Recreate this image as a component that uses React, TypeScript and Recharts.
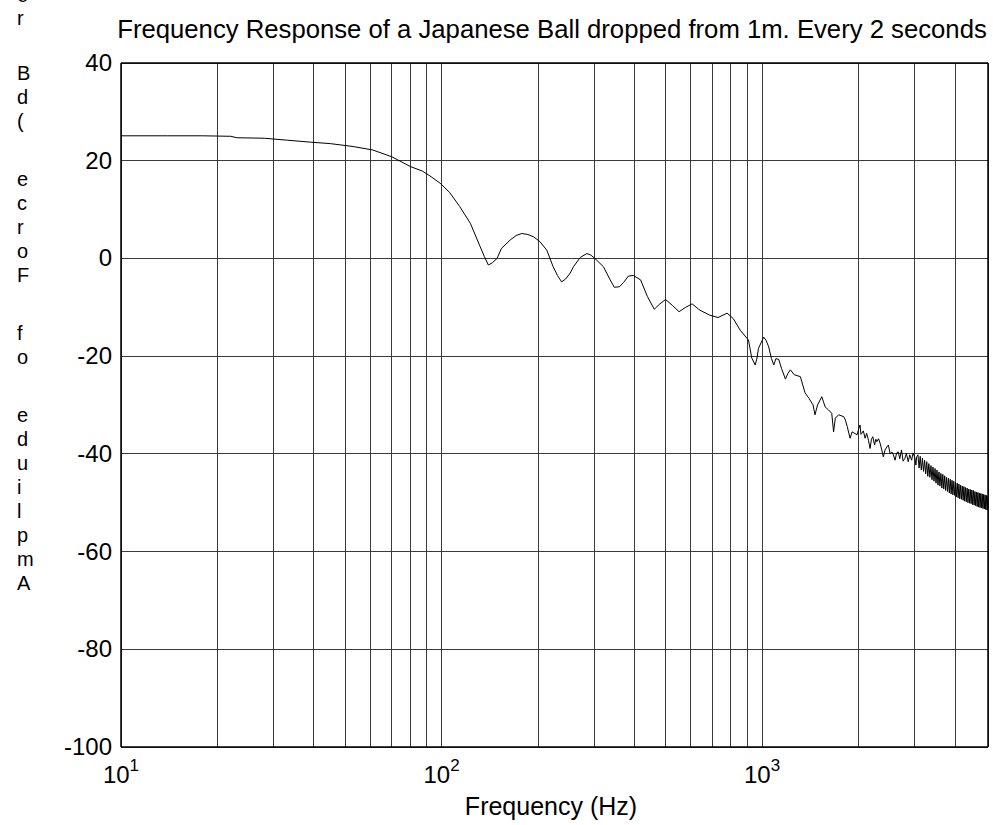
import React from 'react';
import { LineChart, Line, XAxis, YAxis, CartesianGrid, ReferenceLine } from 'recharts';

const FONT = '"Liberation Sans", Arial, Helvetica, sans-serif';

const TITLE = 'Frequency Response of a Japanese Ball dropped from 1m. Every 2 seconds';
const X_LABEL = 'Frequency (Hz)';
const Y_LABEL_CHARS = ['e', 'r', 'B', 'd', '(', 'e', 'c', 'r', 'o', 'F', 'f', 'o', 'e', 'd', 'u', 'i', 'l', 'p', 'm', 'A'];
const Y_LABEL_BASELINES = [2, 25, 80, 104, 128, 186, 210, 234, 258, 282, 340, 364, 422, 446, 470, 494, 518, 542, 566, 590];

const X_MIN = 10;
const X_MAX = 5070;
const X_GRID = [10, 20, 30, 40, 50, 60, 70, 80, 90, 100, 200, 300, 400, 500, 600, 700, 800, 900, 1000, 2000, 3000, 4000];
const X_LABELED = [10, 100, 1000];
const Y_TICKS = [-100, -80, -60, -40, -20, 0, 20, 40];

// Frequency (Hz)
const FREQ = [
  10, 14, 18, 22, 23, 28, 33, 39, 45, 53, 61, 70, 80, 87, 92, 99, 106, 114, 123, 132,
  136, 140, 144, 149, 154, 164, 171, 178, 186, 194, 203, 213, 223, 230, 237, 244, 252, 258, 271, 284,
  292, 301, 320, 336, 346, 359, 370, 383, 397, 418, 439, 461, 480, 500, 525, 551, 578, 605, 640, 686,
  729, 778, 813, 855, 907, 929, 952, 963, 975, 1012, 1030, 1049, 1070, 1088, 1105, 1128, 1150, 1183, 1205, 1226,
  1260, 1317, 1362, 1400, 1443, 1463, 1490, 1536, 1574, 1612, 1650, 1672, 1693, 1734, 1800, 1820, 1844, 1882, 1910, 1980,
  2000, 2022, 2035, 2047, 2070, 2097, 2120, 2148, 2173, 2195, 2216, 2245, 2265, 2280, 2310, 2335, 2360, 2390, 2420, 2450,
  2479, 2510, 2540, 2570, 2601, 2630, 2661, 2690, 2724, 2755, 2791, 2820, 2858, 2890, 2929, 2960, 3001, 3020, 3038,
  3065, 3090, 3115, 3140, 3165, 3190, 3215, 3240, 3265, 3290, 3315, 3340, 3365, 3390, 3415, 3440, 3465, 3490, 3515, 3540,
  3565, 3590, 3615, 3640, 3665, 3690, 3715, 3740, 3765, 3790, 3815, 3840, 3865, 3890, 3915, 3940, 3965, 3990, 4015, 4040,
  4065, 4090, 4115, 4140, 4165, 4190, 4215, 4240, 4265, 4290, 4315, 4340, 4365, 4390, 4415, 4440, 4465, 4490, 4515, 4540,
  4565, 4590, 4615, 4640, 4665, 4690, 4715, 4740, 4765, 4790, 4815, 4840, 4865, 4890, 4915, 4940, 4965, 4990, 5015, 5040,
  5065,
];

// Amplitude of force (dB)
const AMP = [
  25.1, 25.1, 25.1, 25.0, 24.7, 24.6, 24.2, 23.8, 23.5, 22.9, 22.2, 20.8, 18.8, 17.9, 16.9, 15.4, 13.5, 10.6, 7.2, 2.4,
  0.4, -1.35, -0.9, 0.0, 2.1, 3.8, 4.7, 5.1, 4.9, 4.4, 3.4, 1.7, -1.7, -3.5, -4.8, -4.2, -3.0, -1.7, 0.2, 1.0,
  0.7, 0.0, -1.7, -4.4, -5.9, -5.8, -4.9, -3.6, -3.5, -4.4, -7.8, -10.4, -9.3, -8.4, -9.6, -10.9, -10.0, -9.3, -10.6, -11.6,
  -12.1, -11.2, -12.3, -14.7, -16.7, -20.4, -21.8, -20.6, -18.4, -16.1, -16.8, -18.1, -20.5, -21.8, -20.5, -20.7, -22.5, -24.7, -23.5, -22.8,
  -23.8, -24.2, -27.5, -28.6, -30.0, -32.0, -30.0, -28.3, -30.4, -31.0, -31.7, -35.5, -32.7, -32.0, -32.4, -33.1, -34.4, -36.8, -35.5, -36.1,
  -35.0, -34.1, -36.0, -35.8, -35.3, -36.8, -35.8, -37.2, -38.9, -37.0, -36.5, -38.2, -37.0, -37.5, -36.9, -37.8, -39.0, -40.6, -39.2, -38.6,
  -38.2, -40.0, -39.6, -40.2, -41.3, -39.8, -39.6, -41.0, -39.2, -41.5, -40.9, -39.9, -41.6, -40.2, -41.3, -39.8, -40.9, -42.3, -40.6,
  -40.2, -42.9, -40.5, -43.3, -40.9, -43.6, -41.3, -44.1, -41.6, -44.6, -42.0, -44.8, -42.4, -45.3, -42.7, -45.6, -43.0, -46.0, -43.3, -46.4,
  -43.7, -46.6, -44.0, -47.0, -44.2, -47.2, -44.5, -47.5, -44.8, -47.7, -45.0, -48.0, -45.2, -48.2, -45.4, -48.4, -45.6, -48.5, -45.8, -48.8,
  -46.0, -49.0, -46.2, -49.2, -46.4, -49.3, -46.6, -49.5, -46.7, -49.7, -46.9, -49.8, -47.0, -50.0, -47.2, -50.1, -47.3, -50.2, -47.4, -50.4,
  -47.5, -50.5, -47.7, -50.6, -47.8, -50.8, -47.9, -50.9, -48.0, -51.0, -48.1, -51.1, -48.2, -51.2, -48.3, -51.3, -48.4, -51.4, -48.5, -51.5,
  -48.6,
];

const data = FREQ.map((f, i) => ({ f, a: AMP[i] }));

const XTick = (props: any) => {
  const { x, y, payload } = props;
  const v = payload.value;
  if (!X_LABELED.includes(v)) return null;
  const exp = Math.round(Math.log10(v));
  return (
    <text x={x} y={y + 36} textAnchor="middle" fontSize={24} fill="#000" fontFamily={FONT}>
      <tspan>10</tspan>
      <tspan dy={-12} fontSize={17}>{exp}</tspan>
    </text>
  );
};

const YTick = (props: any) => {
  const { x, y, payload } = props;
  return (
    <text x={x} y={y + 8} textAnchor="end" fontSize={24} fill="#000" fontFamily={FONT}>
      {payload.value}
    </text>
  );
};

export default function App() {
  return (
    <div style={{ position: 'absolute', left: 0, top: 0, width: 993, height: 825, background: '#fff', fontFamily: FONT }}>
      <LineChart width={993} height={825} data={data} margin={{ top: 63, right: 5, bottom: 38, left: 61 }}>
        <CartesianGrid stroke="#3a3a3a" strokeWidth={1} shapeRendering="crispEdges" />
        <XAxis
          dataKey="f"
          type="number"
          scale="log"
          domain={[X_MIN, X_MAX]}
          ticks={X_GRID}
          interval={0}
          tick={(p: any) => <XTick {...p} />}
          tickSize={0}
          tickMargin={0}
          tickLine={false}
          height={40}
          axisLine={{ stroke: '#000', strokeWidth: 1.5 }}
          allowDataOverflow
        />
        <YAxis
          type="number"
          domain={[-100, 40]}
          ticks={Y_TICKS}
          interval={0}
          width={60}
          tick={(p: any) => <YTick {...p} />}
          tickSize={0}
          tickMargin={9}
          tickLine={false}
          axisLine={{ stroke: '#000', strokeWidth: 1.5 }}
        />
        <ReferenceLine y={40} stroke="#000" strokeWidth={1.5} />
        <ReferenceLine x={X_MAX} stroke="#000" strokeWidth={1.5} />
        <Line dataKey="a" type="linear" stroke="#000" strokeWidth={1} dot={false} isAnimationActive={false} />
      </LineChart>
      <svg width={993} height={825} style={{ position: 'absolute', left: 0, top: 0, pointerEvents: 'none' }}>
        <text x={552} y={38} textAnchor="middle" fontSize={25.7} fill="#000" fontFamily={FONT}>{TITLE}</text>
        <text x={551} y={815} textAnchor="middle" fontSize={25} fill="#000" fontFamily={FONT}>{X_LABEL}</text>
        {Y_LABEL_CHARS.map((c, i) => (
          <text key={i} x={17} y={Y_LABEL_BASELINES[i]} fontSize={20} fill="#000" fontFamily={FONT}>{c}</text>
        ))}
      </svg>
    </div>
  );
}
